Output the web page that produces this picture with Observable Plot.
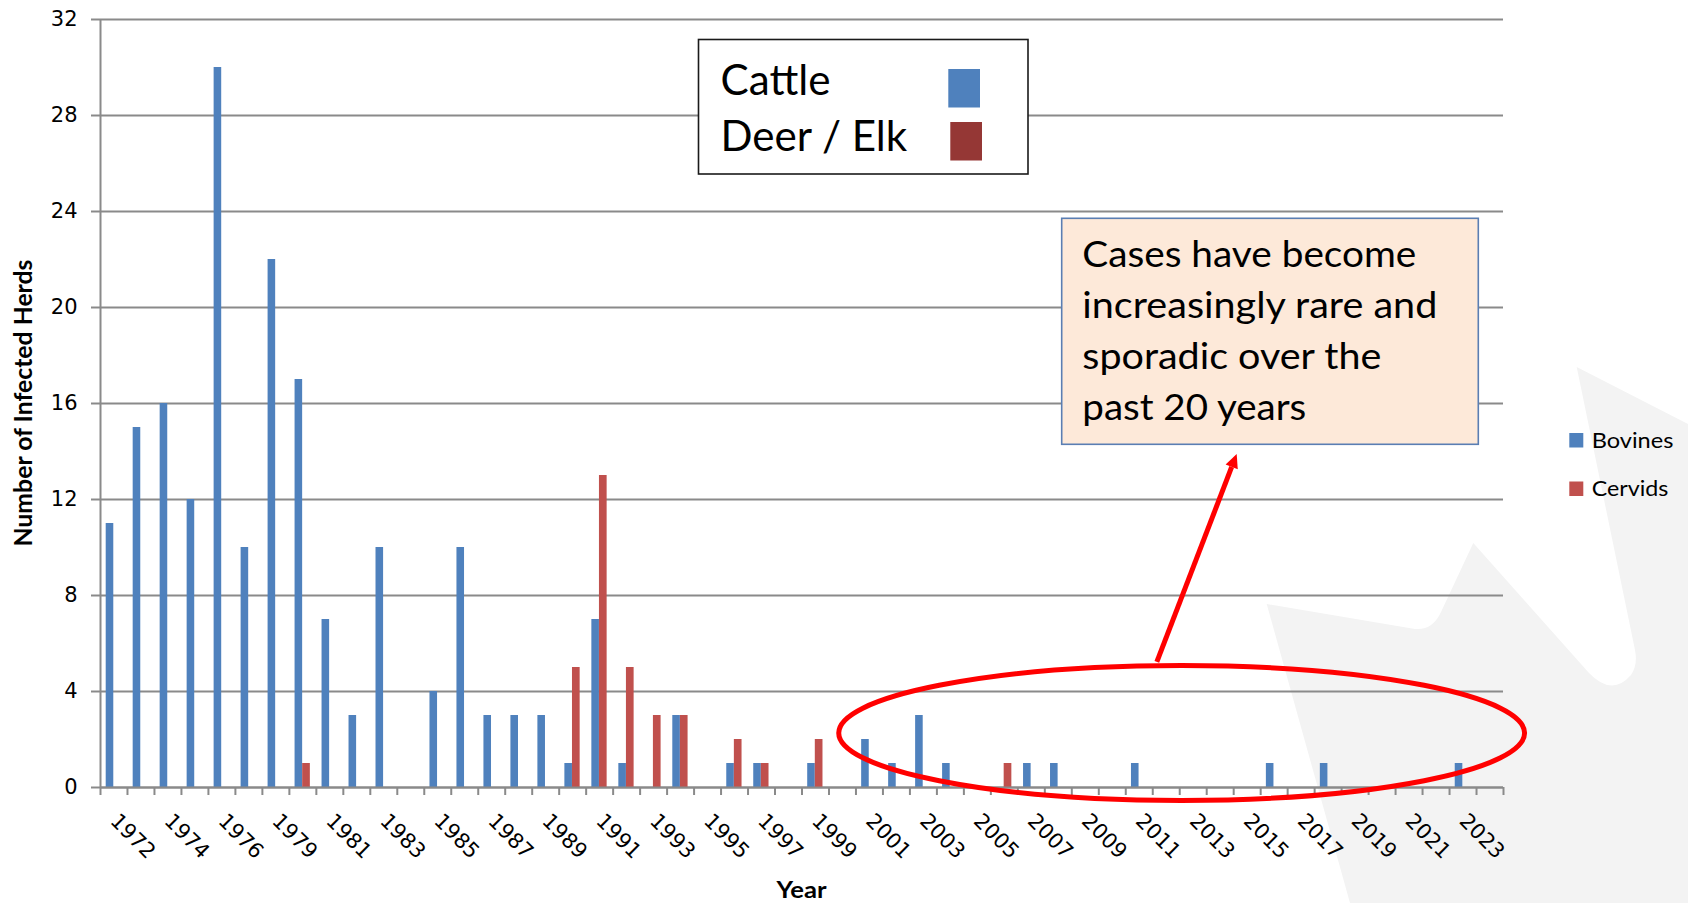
<!DOCTYPE html>
<html>
<head>
<meta charset="utf-8">
<script src="https://cdn.jsdelivr.net/npm/d3@7"></script>
<script src="https://cdn.jsdelivr.net/npm/@observablehq/plot@0.6"></script>
<style>
  html, body { margin: 0; padding: 0; background: #ffffff; }
  #chart { position: relative; width: 1688px; height: 903px; overflow: hidden; }
</style>
</head>
<body>
<div id="chart"></div>
<script>
// ---------------- data ----------------
const years = ["1972","1973","1974","1975","1976","1977","1979","1980","1981","1982",
  "1983","1984","1985","1986","1987","1988","1989","1990","1991","1992",
  "1993","1994","1995","1996","1997","1998","1999","2000","2001","2002",
  "2003","2004","2005","2006","2007","2008","2009","2010","2011","2012",
  "2013","2014","2015","2016","2017","2018","2019","2020","2021","2022",
  "2023","2024"];
const bovines = [11,15,16,12,30,10,22,17,7,3,
  10,0,4,10,3,3,3,1,7,1,
  0,3,0,1,1,0,1,0,2,1,
  3,1,0,0,1,1,0,0,1,0,
  0,0,0,1,0,1,0,0,0,0,
  1,0];
const cervids = [0,0,0,0,0,0,0,1,0,0,
  0,0,0,0,0,0,0,5,13,5,
  3,3,0,2,1,0,2,0,0,0,
  0,0,0,1,0,0,0,0,0,0,
  0,0,0,0,0,0,0,0,0,0,
  0,0];
const yTicks = [0,4,8,12,16,20,24,28,32];
const seriesNames = ["Bovines","Cervids"];
const boxLegendNames = ["Cattle","Deer / Elk"];
const calloutLines = ["Cases have become","increasingly rare and","sporadic over the","past 20 years"];
const yTitle = "Number of Infected Herds";
const xTitle = "Year";

// ---------------- styles ----------------
const BLUE = "#4F81BD", RED = "#C0504D", DARKRED = "#953735";
const GRID = "#8A8A8A";
const FONT = "Lato, 'Open Sans', sans-serif";
const TICKFONT = "'DejaVu Sans', Verdana, sans-serif";

const rows = years.map((year, i) => ({i, year, bov: bovines[i], cerv: cervids[i]}));
const boundaryTicks = d3.range(0, years.length + 1);
const labelTicks = years.map((y, i) => i).filter(i => i % 2 === 0).map(i => i + 0.5);

const plot = Plot.plot({
  width: 1688, height: 903,
  marginLeft: 100, marginRight: 185, marginTop: 19, marginBottom: 116,
  style: {fontFamily: TICKFONT, fontSize: "21px", color: "#000", background: "transparent", overflow: "visible"},
  x: {type: "linear", domain: [0, years.length], axis: null},
  y: {domain: [0, 32], axis: null},
  marks: [
    Plot.gridY(yTicks, {stroke: GRID, strokeOpacity: 1, strokeWidth: 2}),
    Plot.axisY(yTicks, {tickSize: 9, tickPadding: 14, stroke: GRID, strokeWidth: 2, fill: "#000", fontSize: 21, label: null}),
    Plot.axisX(boundaryTicks, {tickSize: 8, stroke: GRID, strokeWidth: 2, tickFormat: () => null, label: null}),
    Plot.axisX(labelTicks, {tickSize: 0, tickPadding: 30, tickRotate: 45, textAnchor: "start",
      fill: "#000", fontSize: 21, tickFormat: d => years[d - 0.5], label: null}),
    Plot.rectY(rows, {x1: "i", x2: d => d.i + 1, y: "bov", fill: BLUE, insetLeft: 5.7, insetRight: 13.7}),
    Plot.rectY(rows, {x1: "i", x2: d => d.i + 1, y: "cerv", fill: RED, insetLeft: 13.3, insetRight: 6}),
    Plot.ruleX([0], {stroke: GRID, strokeWidth: 2}),
    Plot.ruleY([0], {stroke: GRID, strokeWidth: 2})
  ]
});

const svg = d3.select(plot);
const xs = plot.scale("x"), ys = plot.scale("y");
const X = v => xs.apply(v), Y = v => ys.apply(v);

// faint background watermark (behind everything)
svg.insert("path", ":first-child")
  .attr("d", "M1350,903 L1266.7,604 L1412,628.5 Q1432,632 1441,612 L1473.3,543 L1589,673 Q1612,697 1631,675 Q1638,665 1635,650 L1576.7,367 L1688,424 L1688,903 Z")
  .attr("fill", "#F3F3F3");

// axis titles
svg.append("text")
  .attr("transform", `translate(${X(0) - 76},${(Y(0) + Y(32)) / 2}) rotate(-90)`)
  .attr("text-anchor", "middle").attr("dy", "0.35em")
  .attr("font-family", FONT).attr("font-weight", "bold").attr("font-size", 24)
  .attr("textLength", 287).attr("lengthAdjust", "spacingAndGlyphs")
  .text(yTitle);
svg.append("text")
  .attr("x", (X(0) + X(years.length)) / 2).attr("y", 898)
  .attr("text-anchor", "middle")
  .attr("font-family", FONT).attr("font-weight", "bold").attr("font-size", 22)
  .attr("textLength", 50).attr("lengthAdjust", "spacingAndGlyphs")
  .text(xTitle);

// right-side series legend
const legColors = [BLUE, RED];
seriesNames.forEach((name, k) => {
  const top = 433 + k * 48.5;
  svg.append("rect").attr("x", 1569.3).attr("y", top).attr("width", 14).attr("height", 14.5).attr("fill", legColors[k]);
  svg.append("text").attr("x", 1591.7).attr("y", top + 14.5)
    .attr("text-anchor", "start")
    .attr("font-family", FONT).attr("font-size", 22)
    .attr("textLength", k === 0 ? 81.7 : 76.7).attr("lengthAdjust", "spacingAndGlyphs")
    .text(name);
});

// boxed legend (Cattle / Deer / Elk)
svg.append("rect").attr("x", 698.5).attr("y", 39.5).attr("width", 329.5).attr("height", 134.5)
  .attr("fill", "#fff").attr("stroke", "#1a1a1a").attr("stroke-width", 1.6);
const boxCols = [BLUE, DARKRED];
const boxLens = [110, 186.7];
boxLegendNames.forEach((name, k) => {
  svg.append("text").attr("x", 720.5).attr("y", 94.5 + k * 56)
    .attr("text-anchor", "start")
    .attr("font-family", FONT).attr("font-size", 42)
    .attr("textLength", boxLens[k]).attr("lengthAdjust", "spacingAndGlyphs")
    .text(name);
  svg.append("rect").attr("x", 948.3 + k * 2).attr("y", 69 + k * 53).attr("width", 31.7).attr("height", 38.5)
    .attr("fill", boxCols[k]);
});

// callout box
svg.append("rect").attr("x", 1061.7).attr("y", 218.3).attr("width", 416.6).attr("height", 226)
  .attr("fill", "#FDE9D9").attr("stroke", "#5A7EB3").attr("stroke-width", 1.6);
const calloutLens = [334, 355, 299, 224];
calloutLines.forEach((line, k) => {
  svg.append("text").attr("x", 1082.3).attr("y", 267 + k * 51)
    .attr("text-anchor", "start")
    .attr("font-family", FONT).attr("font-size", 37.5)
    .attr("textLength", calloutLens[k]).attr("lengthAdjust", "spacingAndGlyphs")
    .text(line);
});

// red ellipse around recent years
const ecx = X(40.09), ecy = Y(2.25);
svg.append("ellipse")
  .attr("cx", ecx).attr("cy", ecy)
  .attr("rx", X(40.09 + 12.71) - ecx).attr("ry", Y(2.25 - 2.81) - ecy)
  .attr("fill", "none").attr("stroke", "#FF0000").attr("stroke-width", 5);

// red arrow from ellipse to callout
const ax1 = X(39.17), ay1 = Y(5.21), ax2 = X(42.13), ay2 = Y(13.88);
const len = Math.hypot(ax2 - ax1, ay2 - ay1);
const ux = (ax2 - ax1) / len, uy = (ay2 - ay1) / len;
const headL = 14, headW = 6.5;
const bx = ax2 - ux * headL, by = ay2 - uy * headL;
svg.append("line").attr("x1", ax1).attr("y1", ay1).attr("x2", bx).attr("y2", by)
  .attr("stroke", "#FF0000").attr("stroke-width", 5);
svg.append("polygon")
  .attr("points", [[ax2, ay2], [bx - uy * headW, by + ux * headW], [bx + uy * headW, by - ux * headW]].map(p => p.join(",")).join(" "))
  .attr("fill", "#FF0000");

document.getElementById("chart").appendChild(plot);
</script>
</body>
</html>
